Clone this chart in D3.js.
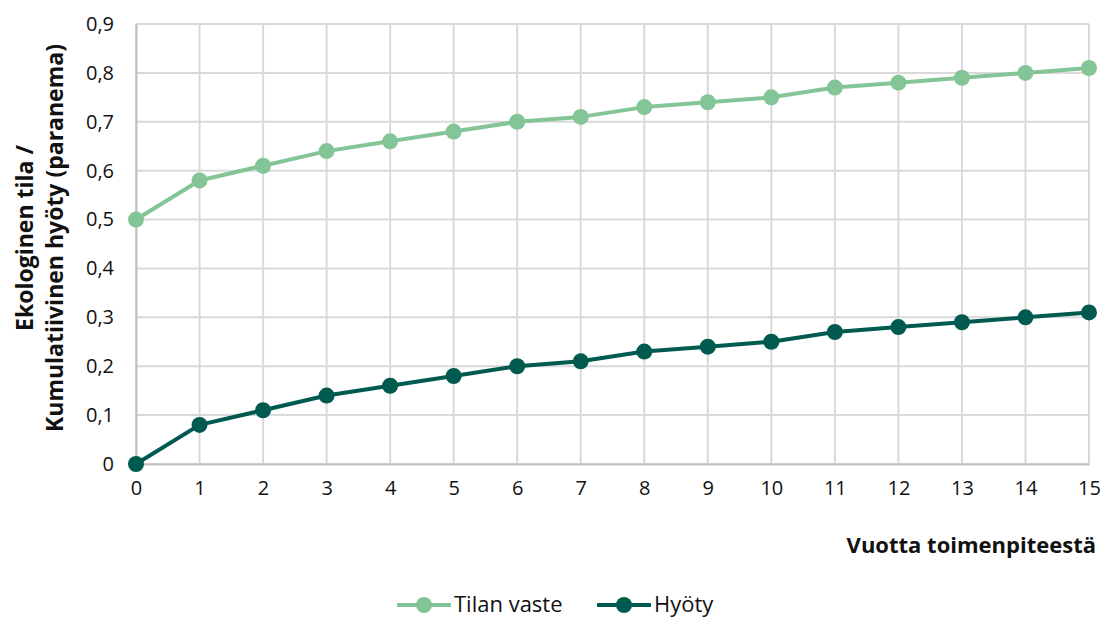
<!DOCTYPE html>
<html>
<head>
<meta charset="utf-8">
<script src="https://cdn.jsdelivr.net/npm/d3@7"></script>
<style>
  body { margin: 0; background: #fff; }
  text { font-family: "Open Sans", "DejaVu Sans", sans-serif; fill: #111; }
</style>
</head>
<body>
<div id="chart"></div>
<script>
const years = [0, 1, 2, 3, 4, 5, 6, 7, 8, 9, 10, 11, 12, 13, 14, 15]
const tilanVaste = [0.50, 0.58, 0.61, 0.64, 0.66, 0.68, 0.70, 0.71, 0.73, 0.74, 0.75, 0.77, 0.78, 0.79, 0.80, 0.81]
const hyoty = [0.00, 0.08, 0.11, 0.14, 0.16, 0.18, 0.20, 0.21, 0.23, 0.24, 0.25, 0.27, 0.28, 0.29, 0.30, 0.31]
const yTicks = [0, 0.1, 0.2, 0.3, 0.4, 0.5, 0.6, 0.7, 0.8, 0.9]
const seriesNames = ["Tilan vaste", "Hyöty"]
const colors = ["#84c597", "#005a50"]

const W = 1104, H = 619
const MARGIN = { LEFT: 136, RIGHT: 15, TOP: 24, BOTTOM: 155 }
const WIDTH = W - MARGIN.LEFT - MARGIN.RIGHT
const HEIGHT = H - MARGIN.TOP - MARGIN.BOTTOM

const svg = d3.select("#chart").append("svg")
  .attr("width", W)
  .attr("height", H)

const g = svg.append("g")
  .attr("transform", `translate(${MARGIN.LEFT}, ${MARGIN.TOP})`)

const x = d3.scaleLinear().domain([0, 15]).range([0, WIDTH])
const y = d3.scaleLinear().domain([0, 0.9]).range([HEIGHT, 0])
const fmt = d => d === 0 ? "0" : d3.format(".1f")(d).replace(".", ",")

// gridlines
g.append("g").selectAll("line").data(yTicks).join("line")
  .attr("x1", 0).attr("x2", WIDTH)
  .attr("y1", d => y(d)).attr("y2", d => y(d))
  .attr("stroke", "#d9d9d9").attr("stroke-width", 2)
g.append("g").selectAll("line").data(years).join("line")
  .attr("y1", 0).attr("y2", HEIGHT)
  .attr("x1", d => x(d)).attr("x2", d => x(d))
  .attr("stroke", "#d9d9d9").attr("stroke-width", 2)

// axes
const xAxis = g.append("g")
  .attr("transform", `translate(0, ${HEIGHT})`)
  .call(d3.axisBottom(x).tickValues(years).tickSize(0).tickPadding(22))
xAxis.select(".domain").attr("stroke", "#bfbfbf").attr("stroke-width", 2)
xAxis.selectAll("text").attr("font-size", 20).attr("dy", "0.45em")

const yAxis = g.append("g")
  .call(d3.axisLeft(y).tickValues(yTicks).tickFormat(fmt).tickSize(0).tickPadding(22))
yAxis.select(".domain").attr("stroke", "#bfbfbf").attr("stroke-width", 2)
yAxis.selectAll("text").attr("font-size", 20)

// series
const series = [tilanVaste, hyoty]
const line = d3.line().x((d, i) => x(years[i])).y(d => y(d))
series.forEach((vals, s) => {
  g.append("path")
    .datum(vals)
    .attr("fill", "none")
    .attr("stroke", colors[s])
    .attr("stroke-width", 4)
    .attr("stroke-linejoin", "round")
    .attr("d", line)
  g.append("g").selectAll("circle").data(vals).join("circle")
    .attr("cx", (d, i) => x(years[i]))
    .attr("cy", d => y(d))
    .attr("r", 8)
    .attr("fill", colors[s])
})

// axis titles
svg.append("text")
  .attr("x", W - 8).attr("y", 553)
  .attr("text-anchor", "end")
  .attr("font-size", 22).attr("font-weight", "bold")
  .text("Vuotta toimenpiteestä")

const yTitle = svg.append("text")
  .attr("transform", "translate(33, 238) rotate(-90)")
  .attr("text-anchor", "middle")
  .attr("font-size", 23).attr("font-weight", "bold")
yTitle.append("tspan").attr("x", 0).attr("dy", 0).text("Ekologinen tila /")
yTitle.append("tspan").attr("x", 0).attr("dy", 30).text("Kumulatiivinen hyöty (paranema)")

// legend
const legendX = [397, 597]
seriesNames.forEach((name, i) => {
  const lg = svg.append("g").attr("transform", `translate(${legendX[i]}, 605)`)
  lg.append("line").attr("x1", 0).attr("x2", 54)
    .attr("stroke", colors[i]).attr("stroke-width", 4)
  lg.append("circle").attr("cx", 27).attr("r", 8).attr("fill", colors[i])
  lg.append("text").attr("x", 57).attr("dy", "0.32em")
    .attr("font-size", 22).text(name)
})
</script>
</body>
</html>
